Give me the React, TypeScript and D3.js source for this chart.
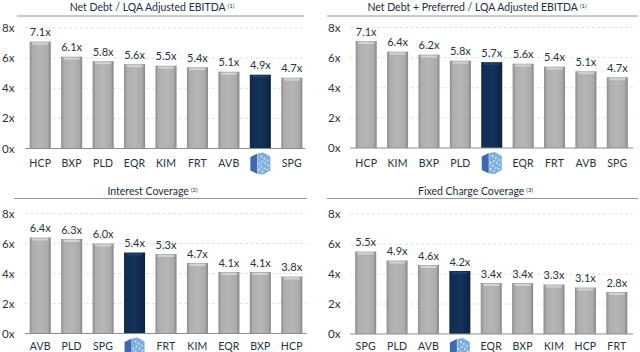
import React from "react";
import * as d3 from "d3";

const LOGO = "LOGO";
const cat1 = ["HCP", "BXP", "PLD", "EQR", "KIM", "FRT", "AVB", LOGO, "SPG"];
const val1 = [7.1, 6.1, 5.8, 5.6, 5.5, 5.4, 5.1, 4.9, 4.7];
const cat2 = ["HCP", "KIM", "BXP", "PLD", LOGO, "EQR", "FRT", "AVB", "SPG"];
const val2 = [7.1, 6.4, 6.2, 5.8, 5.7, 5.6, 5.4, 5.1, 4.7];
const cat3 = ["AVB", "PLD", "SPG", LOGO, "FRT", "KIM", "EQR", "BXP", "HCP"];
const val3 = [6.4, 6.3, 6.0, 5.4, 5.3, 4.7, 4.1, 4.1, 3.8];
const cat4 = ["SPG", "PLD", "AVB", LOGO, "EQR", "BXP", "KIM", "HCP", "FRT"];
const val4 = [5.5, 4.9, 4.6, 4.2, 3.4, 3.4, 3.3, 3.1, 2.8];
const yTicks = [0, 2, 4, 6, 8];
const FONT = "Lato, 'Open Sans', sans-serif";

const panels = [
  { title: "Net Debt / LQA Adjusted EBITDA", note: "(1)", cats: cat1, vals: val1, x0: 24.5, x1: 307.5, y0: 148.5, y8: 28, ruleY: 16, r0: 17, r1: 304, ax0: 25, ax1: 305, tx: 14.5, ty: 10.5, cx: 152, labY: 166.5 },
  { title: "Net Debt + Preferred / LQA Adjusted EBITDA", note: "(1)", cats: cat2, vals: val2, x0: 350.5, x1: 633, y0: 148, y8: 27.5, ruleY: 16, r0: 327, r1: 638, ax0: 350, ax1: 633, tx: 340.5, ty: 10.5, cx: 477, labY: 166.5 },
  { title: "Interest Coverage", note: "(2)", cats: cat3, vals: val3, x0: 24.5, x1: 307.5, y0: 333.5, y8: 213.5, ruleY: 198.5, r0: 14, r1: 307, ax0: 25, ax1: 307, tx: 14.5, ty: 195, cx: 152.5, labY: 349.5 },
  { title: "Fixed Charge Coverage", note: "(3)", cats: cat4, vals: val4, x0: 350, x1: 632.5, y0: 334, y8: 214, ruleY: 198.5, r0: 327, r1: 638, ax0: 350, ax1: 633, tx: 340.5, ty: 195, cx: 475.5, labY: 349.5 },
];

function Logo({ cx, cy }: { cx: number; cy: number }) {
  const dots = [[1, -7], [4, -5], [7, -3], [2, -2], [5, 0], [8, 2], [1, 3], [4, 5], [7, 6], [2, 8], [-1, 0], [-1, 6]];
  return (
    <g transform={`translate(${cx},${cy})`}>
      <path d="M-10,-6.5 L-3,-10 L-3,10.5 L-10,7 Z" fill="#3f68b0" />
      <path d="M-2.5,-10 L3,-11 L10,-7 L10,7 L3,11 L-2.5,10.5 Z" fill="#7eaedb" />
      {dots.map(([x, y], i) => (
        <circle key={i} cx={x} cy={y} r={1} fill="#d3e5f3" />
      ))}
    </g>
  );
}

function Panel({ p }: { p: (typeof panels)[number] }) {
  const x = d3.scaleBand<string>().domain(p.cats).range([p.x0, p.x1]).paddingInner(0.33).paddingOuter(0.165);
  const y = d3.scaleLinear().domain([0, 8]).range([p.y0, p.y8]);
  return (
    <g>
      <text x={p.cx} y={p.ty} textAnchor="middle" fontSize={10.5} fill="#22303c" fontFamily={FONT}>
        {p.title}
        <tspan fontSize={6} dx={2} dy={-3}>{p.note}</tspan>
      </text>
      <line x1={p.r0} x2={p.r1} y1={p.ruleY} y2={p.ruleY} stroke="#8f9699" strokeWidth={1} />
      {yTicks.filter((t) => t > 0).map((t) => (
        <line key={t} x1={p.ax0} x2={p.ax1} y1={y(t)} y2={y(t)} stroke="#d8d8d8" strokeWidth={0.8} strokeDasharray="3 2.5" />
      ))}
      {yTicks.map((t) => (
        <text key={t} x={p.tx} y={y(t) + 4} textAnchor="end" fontSize={11.5} fill="#26323c" fontFamily={FONT}>{`${t}x`}</text>
      ))}
      {p.cats.map((c, j) => {
        const bx = x(c)!;
        const bw = x.bandwidth();
        const top = y(p.vals[j]);
        const me = c === LOGO;
        const h = p.y0 - top;
        return (
          <g key={c}>
            <rect x={bx} y={top} width={bw} height={h} fill={me ? "url(#navy)" : "url(#gray)"} />
            <rect x={bx + 2.5} y={top + 1} width={bw - 5} height={2} fill={me ? "#2f4f76" : "#dedede"} opacity={me ? 0.6 : 0.75} />
            <text x={bx + bw / 2} y={top - 5.5} textAnchor="middle" fontSize={11} fill="#26323c" fontFamily={FONT}>
              {`${p.vals[j].toFixed(1)}x`}
            </text>
            {me ? (
              <Logo cx={bx + bw / 2} cy={p.y0 + 15} />
            ) : (
              <text x={bx + bw / 2} y={p.labY} textAnchor="middle" fontSize={10.5} fill="#26323c" fontFamily={FONT} letterSpacing={0.2}>
                {c}
              </text>
            )}
          </g>
        );
      })}
      <line x1={p.ax0} x2={p.ax1} y1={p.y0} y2={p.y0} stroke="#8a8f90" strokeWidth={1} />
    </g>
  );
}

export default function App() {
  return (
    <svg width={640} height={352} style={{ position: "fixed", left: 0, top: 0, background: "#fff" }}>
      <defs>
        <linearGradient id="gray" x1="0" x2="1" y1="0" y2="0">
          <stop offset="0" stopColor="#8e8e8e" />
          <stop offset="0.15" stopColor="#aeaeae" />
          <stop offset="0.5" stopColor="#b6b6b6" />
          <stop offset="0.85" stopColor="#ababab" />
          <stop offset="1" stopColor="#858585" />
        </linearGradient>
        <linearGradient id="navy" x1="0" x2="1" y1="0" y2="0">
          <stop offset="0" stopColor="#0f2a4d" />
          <stop offset="0.5" stopColor="#14335a" />
          <stop offset="1" stopColor="#0c2443" />
        </linearGradient>
      </defs>
      {panels.map((p, i) => (
        <Panel key={i} p={p} />
      ))}
    </svg>
  );
}
